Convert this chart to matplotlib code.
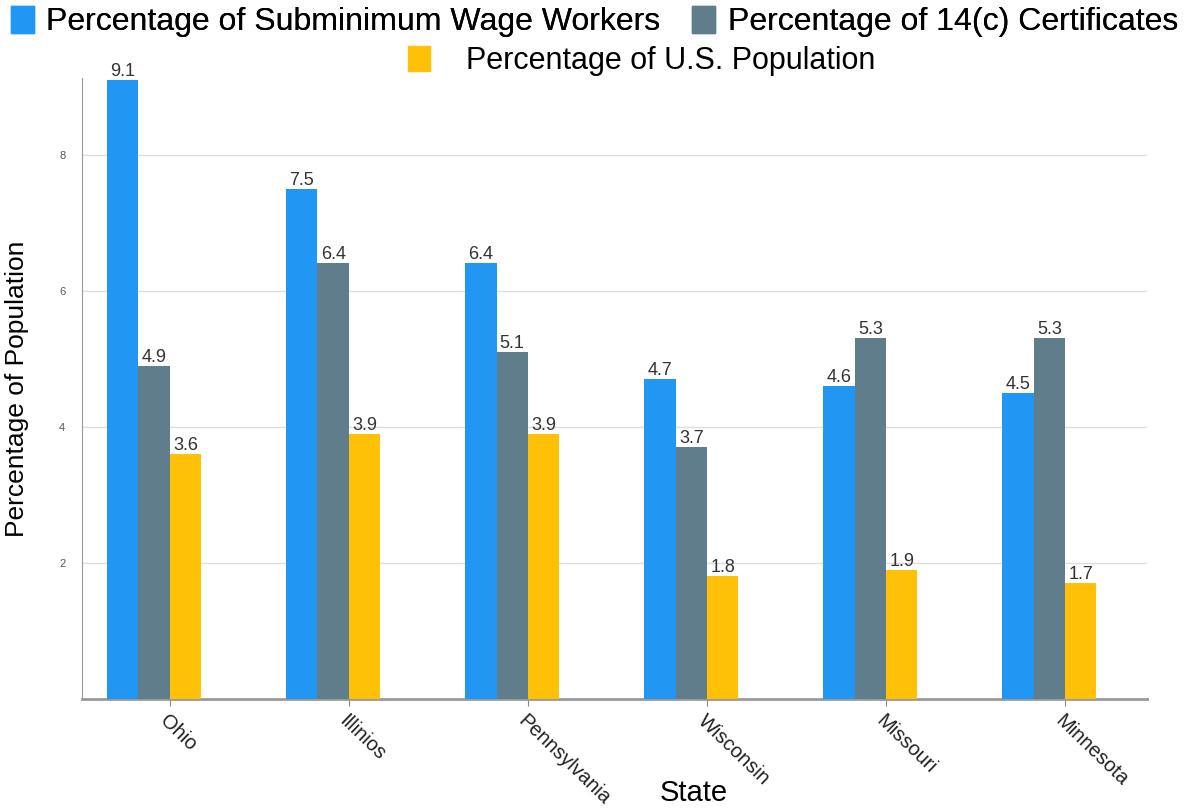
import matplotlib
matplotlib.use("Agg")
import matplotlib.pyplot as plt
from matplotlib.patches import Patch
import numpy as np

plt.rcParams['font.family'] = ['Liberation Sans', 'DejaVu Sans']

states = ["Ohio", "Illinios", "Pennsylvania", "Wisconsin", "Missouri", "Minnesota"]
subminimum = [9.1, 7.5, 6.4, 4.7, 4.6, 4.5]
certificates = [4.9, 6.4, 5.1, 3.7, 5.3, 5.3]
population = [3.6, 3.9, 3.9, 1.8, 1.9, 1.7]
series_names = ["Percentage of Subminimum Wage Workers",
                "Percentage of 14(c) Certificates",
                "Percentage of U.S. Population"]
colors = ["#2196F3", "#607D8B", "#FFC107"]
yticks = [2, 4, 6, 8]

fig = plt.figure(figsize=(11.89, 8.08), dpi=100)
ax = fig.add_axes([0.069, 0.135, 0.896, 0.768])

x = np.arange(len(states))
w = 0.175
series = [subminimum, certificates, population]
offsets = [-1.5 * w, -0.5 * w, 0.5 * w]
for vals, off, c in zip(series, offsets, colors):
    bars = ax.bar(x + off, vals, width=w, color=c, zorder=3)
    ax.bar_label(bars, labels=[f"{v:.1f}" for v in vals], padding=0,
                 fontsize=13, color="#333333", zorder=4)

ax.set_xlim(-0.49, 5.46)
ax.set_ylim(0, 9.12)
ax.set_yticks(yticks)
ax.set_yticklabels([str(t) for t in yticks], fontsize=8, color="#555555")
ax.tick_params(axis='y', length=0, pad=12)
ax.set_xticks(x)
ax.set_xticklabels(states, rotation=-44, ha='left', va='top',
                   rotation_mode='anchor', fontsize=14.5, color="#222222")
ax.tick_params(axis='x', length=5, color="#888888", pad=4)
ax.grid(axis='y', color="#dddddd", linewidth=1, zorder=0)
for s in ['top', 'right']:
    ax.spines[s].set_visible(False)
ax.spines['left'].set_color("#999999")
ax.spines['bottom'].set_color("#999999")
ax.spines['bottom'].set_linewidth(2)
ax.set_ylabel("Percentage of Population", fontsize=19, labelpad=22)
ax.set_xlabel("State", fontsize=21, va='center')
ax.xaxis.set_label_coords(0.574, -0.151)

handles = [Patch(color=c) for c in colors]
leg1 = fig.legend(handles[:2], series_names[:2], ncol=2, loc='upper center',
                  bbox_to_anchor=(0.5, 1.028), frameon=False, fontsize=23,
                  handlelength=0.7, handleheight=0.9, handletextpad=0.4,
                  columnspacing=1.0)
fig.add_artist(leg1)
fig.legend(handles[2:], series_names[2:], loc='upper center',
           bbox_to_anchor=(0.54, 0.977), frameon=False, fontsize=22,
           handlelength=0.7, handleheight=0.9, handletextpad=1.2)

fig.savefig("out.png", dpi=100)
